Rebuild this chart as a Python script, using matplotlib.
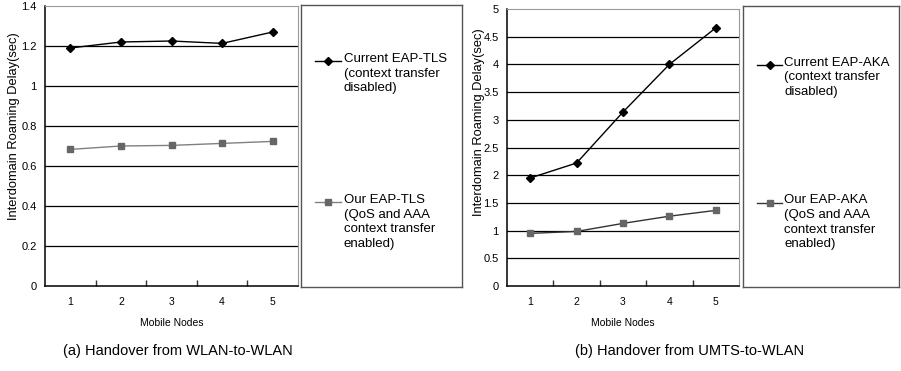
import matplotlib
matplotlib.use("Agg")
import matplotlib.pyplot as plt

# data
nodes = [1, 2, 3, 4, 5]
tls_current = [1.19, 1.22, 1.225, 1.213, 1.27]
tls_ours = [0.683, 0.70, 0.703, 0.713, 0.723]
aka_current = [1.95, 2.22, 3.14, 4.00, 4.66]
aka_ours = [0.95, 0.985, 1.13, 1.26, 1.365]

tls_ticks = [0, 0.2, 0.4, 0.6, 0.8, 1.0, 1.2, 1.4]
tls_ticklabels = ["0", "0.2", "0.4", "0.6", "0.8", "1", "1.2", "1.4"]
aka_ticks = [0, 0.5, 1, 1.5, 2, 2.5, 3, 3.5, 4, 4.5, 5]
aka_ticklabels = ["0", "0.5", "1", "1.5", "2", "2.5", "3", "3.5", "4", "4.5", "5"]

legend_current = ["Current EAP-TLS\n(context transfer\ndisabled)",
                  "Current EAP-AKA\n(context transfer\ndisabled)"]
legend_ours = ["Our EAP-TLS\n(QoS and AAA\ncontext transfer\nenabled)",
               "Our EAP-AKA\n(QoS and AAA\ncontext transfer\nenabled)"]
captions = ["(a) Handover from WLAN-to-WLAN", "(b) Handover from UMTS-to-WLAN"]

NARROW = ["Liberation Sans Narrow", "Liberation Sans", "DejaVu Sans"]
plt.rcParams['font.family'] = ["Liberation Sans", "DejaVu Sans"]

W, H = 901, 371
fig = plt.figure(figsize=(W / 100, H / 100), dpi=100)


def px(x0, y0, x1, y1):
    # pixel box -> figure fraction rect
    return [x0 / W, 1 - y1 / H, (x1 - x0) / W, (y1 - y0) / H]


def draw_panel(rect, cur, ours, ticks, labels, ymax, ours_line, label_xy):
    ax = fig.add_axes(rect)
    ax.plot(nodes, cur, color="black", marker="D", markersize=4.5, lw=1.0)
    ax.plot(nodes, ours, color=ours_line, marker="s", markersize=4,
            markerfacecolor="#666666", markeredgecolor="#666666", lw=1.0)
    ax.set_xlim(0.5, 5.5)
    ax.set_ylim(0, ymax)
    for t in ticks[1:-1]:
        ax.axhline(t, color="black", lw=0.9, zorder=0)
    ax.set_yticks(ticks)
    ax.set_yticklabels(labels, family=NARROW, fontsize=8)
    ax.tick_params(axis="y", length=0, pad=6)
    # category labels at centres, tick marks at boundaries
    ax.set_xticks(nodes)
    ax.set_xticklabels([str(n) for n in nodes], family=NARROW, fontsize=7.5)
    ax.tick_params(axis="x", which="major", length=0, pad=8)
    ax.set_xticks([1.5, 2.5, 3.5, 4.5], minor=True)
    ax.tick_params(axis="x", which="minor", direction="in", length=4,
                   width=1, color="#333333")
    for s in ["top", "right"]:
        ax.spines[s].set_color("#999999")
        ax.spines[s].set_linewidth(0.8)
    for s in ["left", "bottom"]:
        ax.spines[s].set_color("black")
        ax.spines[s].set_linewidth(1.1)
    ax.set_xlabel("Mobile Nodes", family=NARROW, fontsize=7.5, labelpad=8)
    ax.set_ylabel("Interdomain Roaming Delay(sec)", fontsize=9.3)
    ax.yaxis.set_label_coords(*label_xy)
    return ax


def draw_legend(rect, txt_cur, txt_ours, ours_line, y_cur, y_ours):
    lg = fig.add_axes(rect)
    lg.set_xlim(0, 1)
    lg.set_ylim(0, 1)
    lg.set_xticks([])
    lg.set_yticks([])
    for s in lg.spines.values():
        s.set_color("#555555")
        s.set_linewidth(1.0)
    lg.plot([0.09, 0.25], [y_cur, y_cur], color="black", lw=1.0)
    lg.plot([0.17], [y_cur], color="black", marker="D", markersize=4.5)
    lg.text(0.265, y_cur + 0.03, txt_cur, fontsize=9.5, va="top", ha="left",
            linespacing=1.3)
    lg.plot([0.09, 0.25], [y_ours, y_ours], color=ours_line, lw=1.0)
    lg.plot([0.17], [y_ours], color="#666666", marker="s", markersize=4)
    lg.text(0.265, y_ours + 0.03, txt_ours, fontsize=9.5, va="top", ha="left",
            linespacing=1.3)
    return lg


draw_panel(px(45, 6, 298, 286), tls_current, tls_ours, tls_ticks,
           tls_ticklabels, 1.4, "#808080", (-0.10, 0.57))
draw_legend(px(301, 5, 462, 287), legend_current[0], legend_ours[0],
            "#808080", 0.80, 0.30)

draw_panel(px(507, 9, 739, 286), aka_current, aka_ours, aka_ticks,
           aka_ticklabels, 5, "#333333", (-0.095, 0.59))
draw_legend(px(743, 6, 899, 287), legend_current[1], legend_ours[1],
            "#333333", 0.79, 0.30)

fig.text(178 / W, 1 - 351 / H, captions[0], family=NARROW, fontsize=10.5,
         ha="center", va="center")
fig.text(690 / W, 1 - 351 / H, captions[1], family=NARROW, fontsize=10.5,
         ha="center", va="center")

plt.savefig("out.png", dpi=100)
